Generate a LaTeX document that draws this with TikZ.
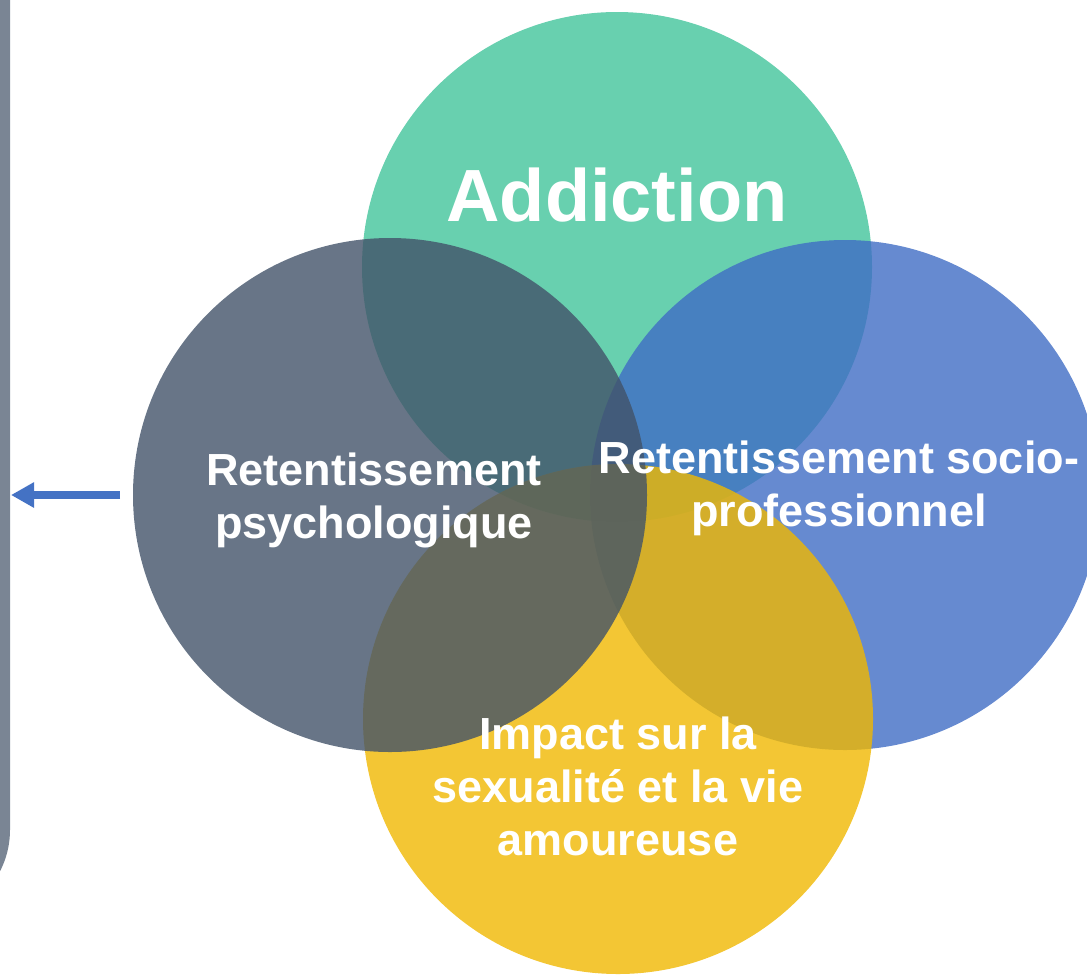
\documentclass[tikz,border=0pt]{standalone}
\usepackage{fontspec}
\setmainfont{Liberation Sans}
\usepackage{tikz}
\usetikzlibrary{arrows.meta}
\definecolor{addgreen}{HTML}{42C49B}
\definecolor{psyslate}{HTML}{425369}
\definecolor{problue}{HTML}{406DC4}
\definecolor{sexyellow}{HTML}{F0B801}
\definecolor{bargray}{HTML}{7A8594}
\definecolor{arrblue}{HTML}{4472C4}
\tikzset{
  venn/.style={fill opacity=0.8,draw=none},
  venntext/.style={text=white,font=\bfseries\fontsize{45}{53}\selectfont,align=center,inner sep=0pt}
}

\begin{document}
\begin{tikzpicture}[x=1pt,y=-1pt]
\useasboundingbox (0,0) rectangle (1087,975);
\clip (0,0) rectangle (1087,975);

\fill[bargray,rounded corners=90pt] (-100,-100) rectangle (10,920);

% four circles, clockwise from the top
\fill[venn,addgreen] (617,267) circle[radius=255];
\fill[venn,problue] (845,495) circle[radius=255];
\fill[venn,sexyellow] (618,719) circle[radius=255];
\fill[venn,psyslate] (390,495) circle[radius=257];

\node[venntext,font=\bfseries\fontsize{74}{80}\selectfont] (addiction) at (617,195) {Addiction};
\node[venntext] (psy) at (374,500) {Retentissement\\psychologique};
\node[venntext] (pro) at (839,488) {Retentissement socio-\\professionnel};
\node[venntext] (sex) at (618,786) {Impact sur la\\sexualité et la vie\\amoureuse};

\coordinate (arrstart) at (120,495);
\coordinate (arrend) at (11,495);
\draw[arrblue,line width=8pt,-{Triangle[length=23pt,width=24pt]}] (arrstart) -- (arrend);
\end{tikzpicture}
\end{document}
